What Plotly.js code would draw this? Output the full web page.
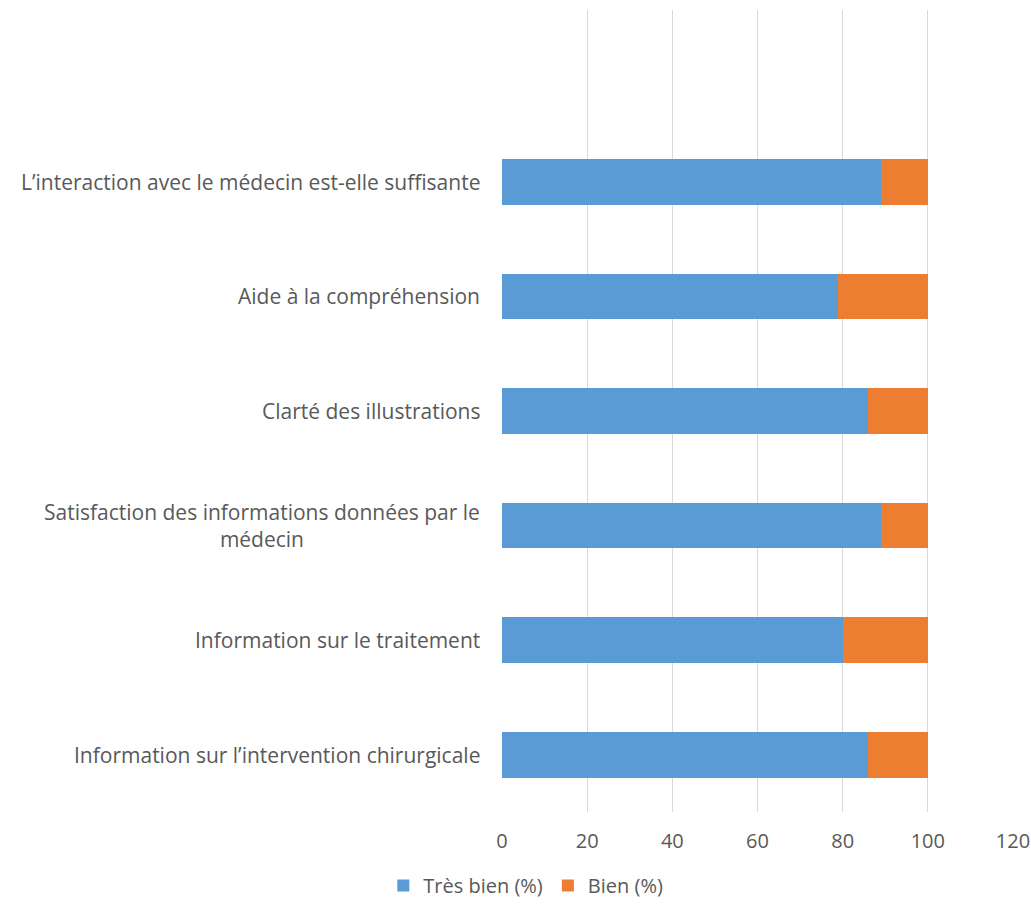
<!DOCTYPE html>
<html>
<head>
<meta charset="utf-8">
<script src="https://cdn.plot.ly/plotly-3.0.1.min.js"></script>
<style>html,body{margin:0;padding:0;background:#fff;}#chart{width:1031px;height:905px;}</style>
</head>
<body>
<div id="chart"></div>
<script>
// Categories listed from bottom to top
const categories = [
  "Information sur l\u2019intervention chirurgicale",
  "Information sur le traitement",
  "Satisfaction des informations données par le<br>médecin",
  "Clarté des illustrations",
  "Aide à la compréhension",
  "L\u2019interaction avec le médecin est-elle suffisante"
];
const tresBien = [86, 80, 89, 86, 79, 89];
const bien = [14, 20, 11, 14, 21, 11];
const xTicks = [0, 20, 40, 60, 80, 100, 120];

const positions = categories.map((_, i) => i);
const font = "Open Sans, Liberation Sans, Arial, sans-serif";
const gray = "#595959";

const traces = [
  {type: "bar", orientation: "h", name: "Très bien (%)", x: tresBien, y: positions,
   marker: {color: "#5B9BD5"}, width: 0.4, hoverinfo: "x+name"},
  {type: "bar", orientation: "h", name: "Bien (%)", x: bien, y: positions,
   marker: {color: "#ED7D31"}, width: 0.4, hoverinfo: "x+name"}
];

const annotations = categories.map((c, i) => ({
  xref: "paper", yref: "y", x: 0, y: i, xanchor: "right", yanchor: "middle",
  xshift: -20, text: c, showarrow: false, align: "center",
  font: {family: font, size: 21, color: gray}
}));

const layout = {
  barmode: "stack",
  width: 1031, height: 905,
  margin: {l: 502, r: 18, t: 10, b: 93},
  paper_bgcolor: "#fff", plot_bgcolor: "#fff",
  font: {family: font, size: 20, color: gray},
  xaxis: {range: [0, 120], tickvals: xTicks, ticktext: xTicks.map(String),
    showgrid: true, gridcolor: "#d9d9d9", gridwidth: 1, zeroline: false,
    showline: false, ticks: "", ticklen: 0, ticklabelstandoff: 15,
    tickfont: {family: font, size: 20, color: gray}, fixedrange: true},
  yaxis: {range: [-0.5, 6.5], showticklabels: false, showgrid: false, zeroline: false,
    showline: false, ticks: "", fixedrange: true},
  showlegend: true,
  legend: {orientation: "h", xref: "container", yref: "container", x: 0.51, xanchor: "center",
    y: 0.043, yanchor: "top", traceorder: "normal", itemwidth: 30,
    font: {family: font, size: 20, color: gray}},
  annotations: annotations
};

Plotly.newPlot("chart", traces, layout, {displayModeBar: false, staticPlot: true});
</script>
</body>
</html>
